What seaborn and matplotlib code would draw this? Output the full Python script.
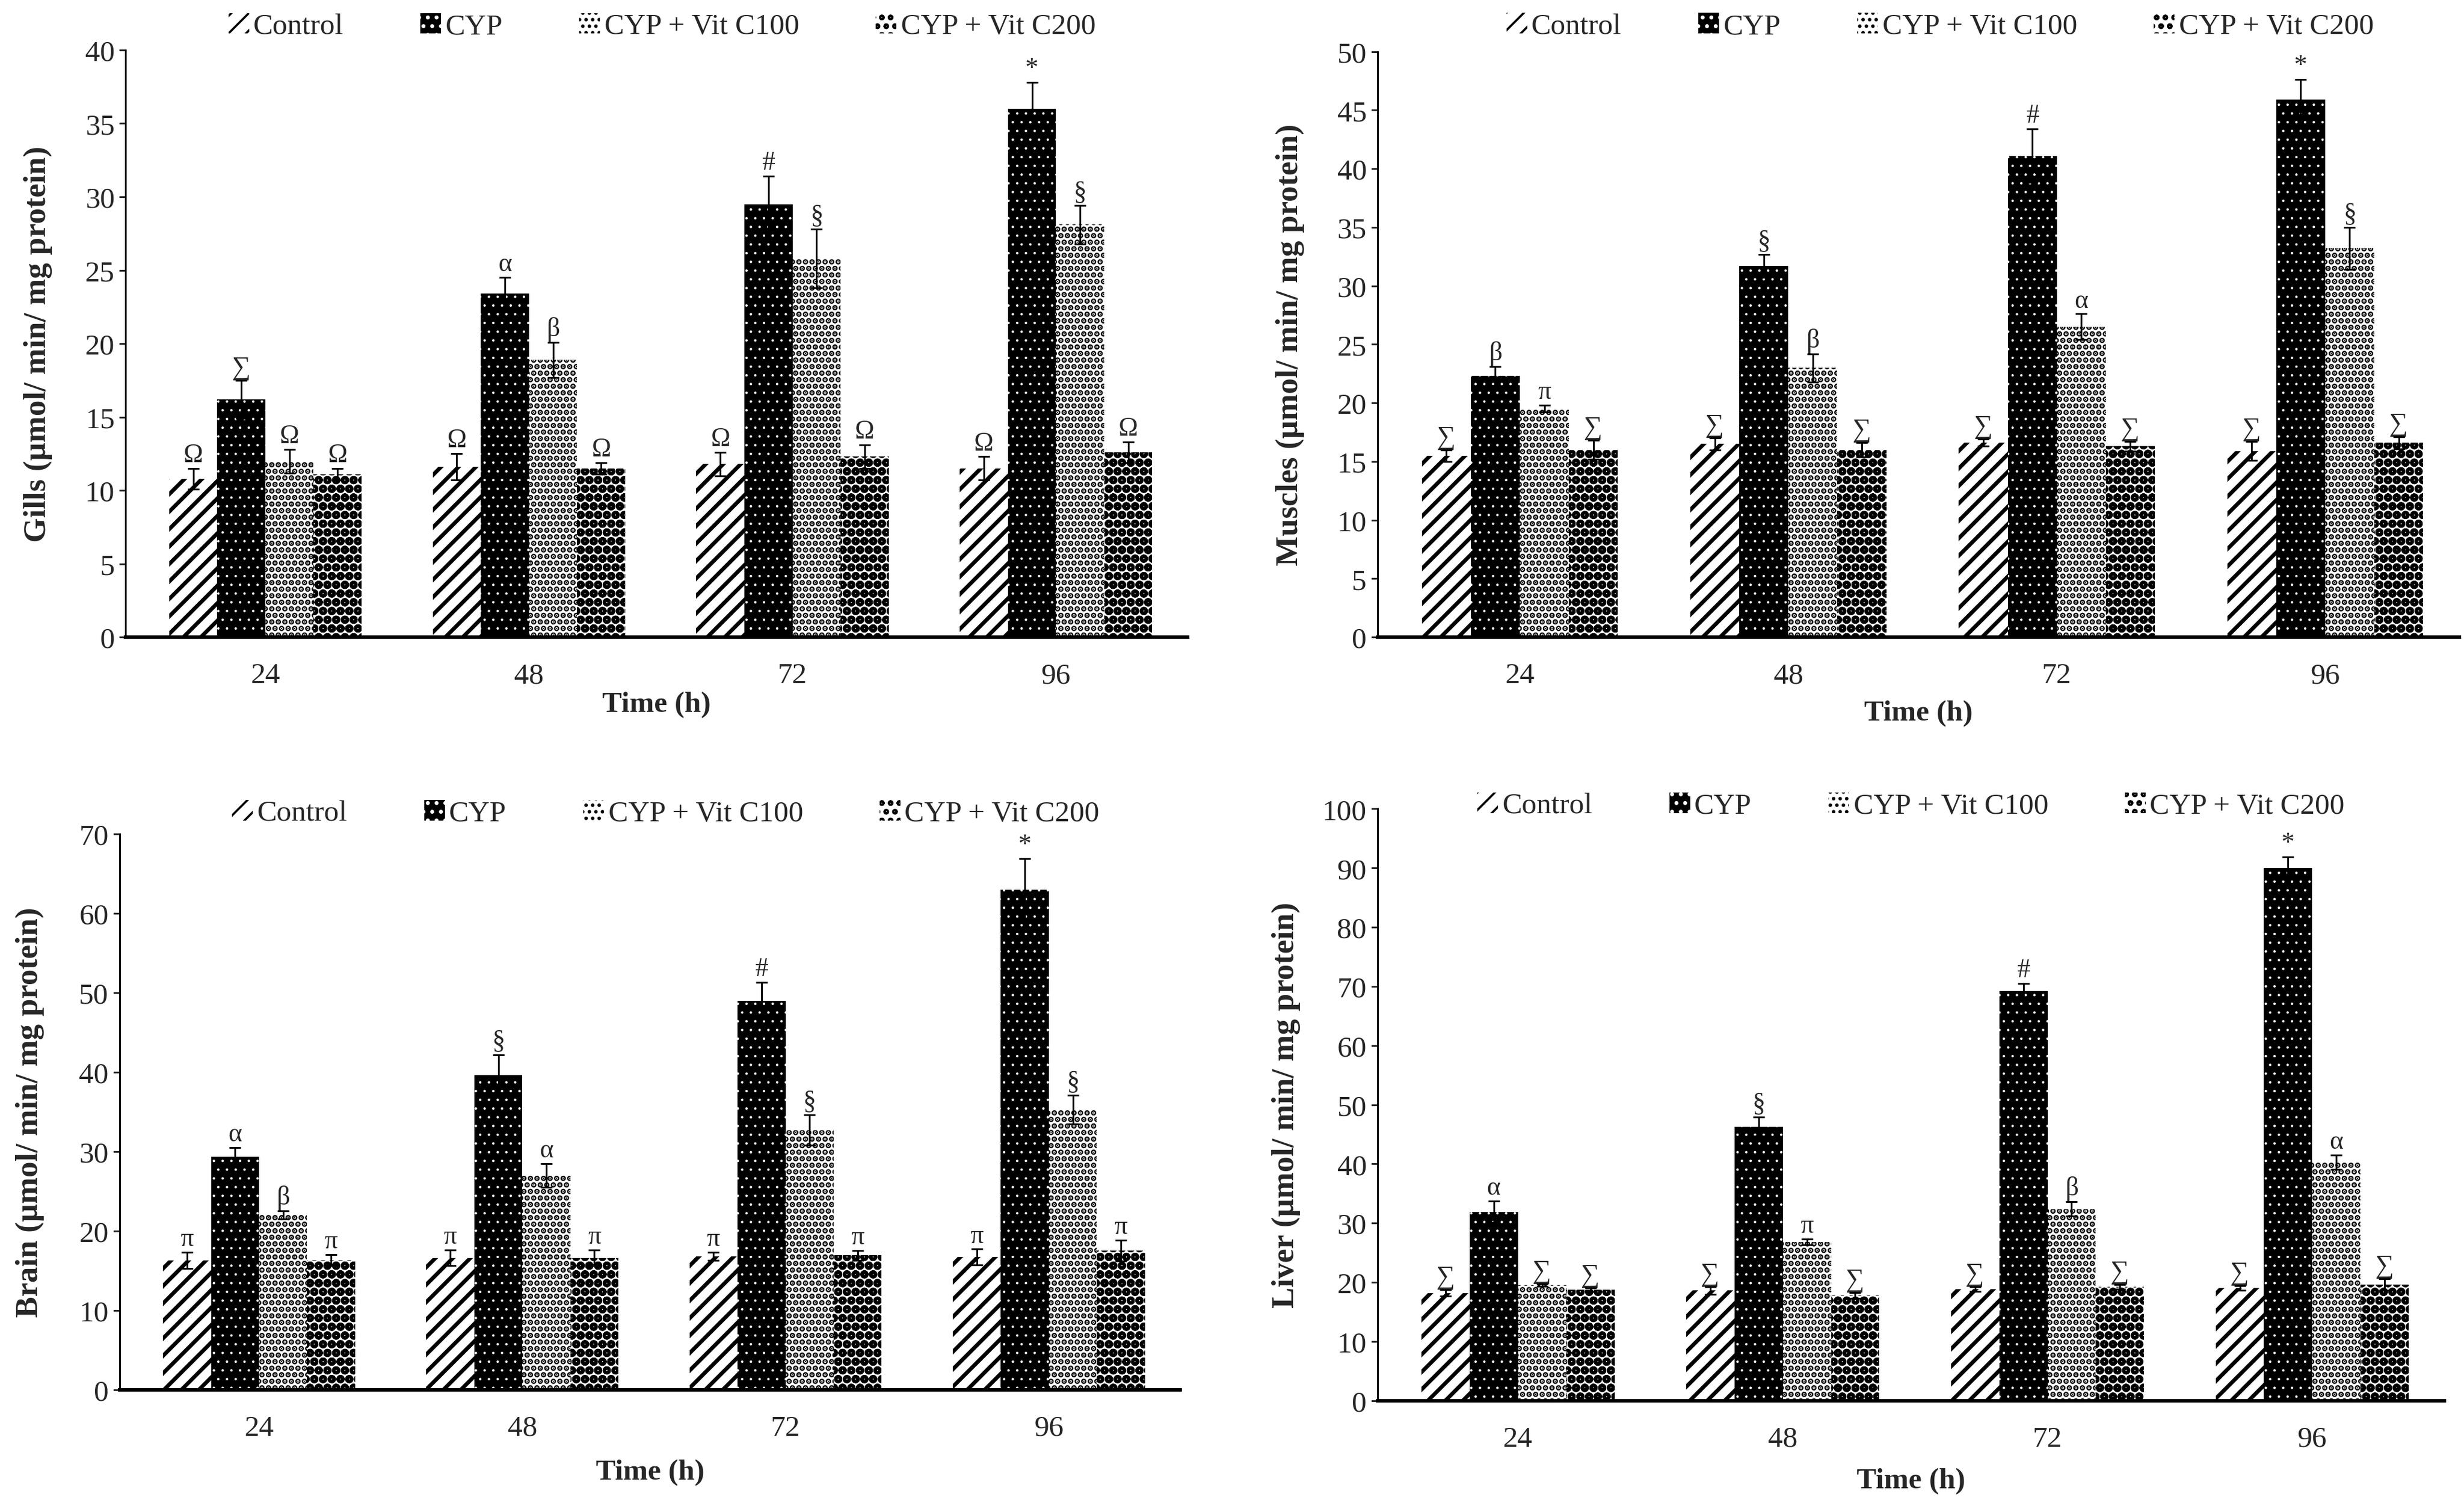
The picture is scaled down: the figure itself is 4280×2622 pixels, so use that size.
import numpy as np
import pandas as pd
import matplotlib
matplotlib.use("Agg")
import matplotlib.pyplot as plt
import seaborn as sns

# DATA
times = ["24", "48", "72", "96"]
groups = ["Control", "CYP", "CYP + Vit C100", "CYP + Vit C200"]

# one list per group, values at 24/48/72/96 h
gills_mean = [[10.8, 11.6, 11.8, 11.5], [16.2, 23.4, 29.5, 36.0],
              [12.0, 18.9, 25.8, 28.1], [11.1, 11.5, 12.3, 12.6]]
gills_err = [[0.7, 0.9, 0.8, 0.8], [1.3, 1.1, 1.9, 1.8],
             [0.8, 1.2, 2.0, 1.3], [0.4, 0.4, 0.8, 0.7]]
gills_sig = [["Ω", "Ω", "Ω", "Ω"], ["∑", "α", "#", "*"],
             ["Ω", "β", "§", "§"], ["Ω", "Ω", "Ω", "Ω"]]

muscles_mean = [[15.5, 16.5, 16.6, 15.9], [22.3, 31.7, 41.1, 45.9],
                [19.5, 23.0, 26.5, 33.2], [16.0, 16.0, 16.3, 16.6]]
muscles_err = [[0.5, 0.5, 0.3, 0.8], [0.8, 1.0, 2.3, 1.7],
               [0.3, 1.2, 1.1, 1.8], [0.8, 0.6, 0.4, 0.5]]
muscles_sig = [["∑", "∑", "∑", "∑"], ["β", "§", "#", "*"],
               ["π", "β", "α", "§"], ["∑", "∑", "∑", "∑"]]

brain_mean = [[16.3, 16.6, 16.8, 16.7], [29.3, 39.6, 49.0, 63.0],
              [22.0, 27.0, 32.7, 35.3], [16.3, 16.6, 16.9, 17.5]]
brain_err = [[1.0, 1.0, 0.5, 1.0], [1.2, 2.6, 2.3, 3.9],
             [0.5, 1.5, 1.9, 1.8], [0.7, 1.0, 0.6, 1.3]]
brain_sig = [["π", "π", "π", "π"], ["α", "§", "#", "*"],
             ["β", "α", "§", "§"], ["π", "π", "π", "π"]]

liver_mean = [[18.2, 18.6, 18.8, 19.0], [31.9, 46.3, 69.2, 90.0],
              [19.5, 26.8, 32.4, 40.3], [18.7, 17.8, 19.2, 19.6]]
liver_err = [[0.5, 0.6, 0.4, 0.4], [1.8, 1.6, 1.3, 1.9],
             [0.2, 0.5, 1.2, 1.2], [0.3, 0.5, 0.4, 1.0]]
liver_sig = [["∑", "∑", "∑", "∑"], ["α", "§", "#", "*"],
             ["∑", "π", "β", "α"], ["∑", "∑", "∑", "∑"]]

# SETTINGS
sns.set_style("white")
plt.rcParams["font.family"] = ["Liberation Serif", "DejaVu Serif"]

# face, hatch colour, hatch, hatch linewidth
styles = [("white", "black", "///", 1.8),
          ("black", "white", "...", 0.3),
          ("white", "black", "....", 1.8),
          ("white", "black", "ooo", 2.2)]


def make_df(means):
    rows = []
    for g, vals in zip(groups, means):
        for t, v in zip(times, vals):
            rows.append({"time": t, "group": g, "value": v})
    return pd.DataFrame(rows)


def draw_panel(ax, means, errs, sigs, ylabel, ymax, ystep, leg_xy, xpad, ypad):
    df = make_df(means)
    sns.barplot(data=df, x="time", y="value", hue="group", order=times,
                hue_order=groups, errorbar=None, width=0.73, ax=ax,
                legend=False)
    bars = list(ax.containers)
    for i, cont in enumerate(bars):
        face, hcol, hatch, hlw = styles[i]
        for p in cont:
            p.set_facecolor(face)
            p.set_edgecolor(hcol)
            p.set_linewidth(0)
            p.set_hatch(hatch)
            if hasattr(p, "set_hatch_linewidth"):
                p.set_hatch_linewidth(hlw)
        xs = [p.get_x() + p.get_width() / 2 for p in cont]
        ax.errorbar(xs, means[i], yerr=errs[i], fmt="none", ecolor="black",
                    elinewidth=0.8, capsize=2.6, capthick=0.8, zorder=5)
        for x, m, e, s in zip(xs, means[i], errs[i], sigs[i]):
            ax.annotate(s, (x, m + e), xytext=(0, 0.5), textcoords="offset points",
                        ha="center", va="bottom", fontsize=12,
                        family=["Liberation Serif", "DejaVu Serif"])

    handles = [cont[0] for cont in bars]
    ax.legend(handles, groups, loc="center", bbox_to_anchor=leg_xy, ncol=4,
              frameon=False, fontsize=13.5, handlelength=0.7, handleheight=0.7,
              handletextpad=0.15, columnspacing=2.6)

    ax.set_ylim(0, ymax)
    ax.set_yticks(np.arange(0, ymax + 1, ystep))
    ax.set_xlim(-0.53, 3.5)
    ax.set_ylabel(ylabel, fontsize=14.5, fontweight="bold", labelpad=ypad)
    ax.set_xlabel("Time (h)", fontsize=13.5, fontweight="bold", labelpad=xpad)
    sns.despine(ax=ax)
    ax.spines["left"].set_linewidth(0.8)
    ax.spines["bottom"].set_linewidth(1.6)
    ax.spines["left"].set_color("black")
    ax.spines["bottom"].set_color("black")
    ax.tick_params(axis="y", left=True, direction="out", length=3, width=0.8,
                   labelsize=13.5, pad=2)
    ax.tick_params(axis="x", bottom=False, labelsize=13.5, pad=8)


fig = plt.figure(figsize=(15.68, 9.608), dpi=273)

ax1 = fig.add_axes([0.051, 0.5775, 0.431, 0.389])
draw_panel(ax1, gills_mean, gills_err, gills_sig,
           "Gills (µmol/ min/ mg protein)", 40, 5, (0.505, 1.040), 1, 15)

ax2 = fig.add_axes([0.559, 0.5775, 0.439, 0.388])
draw_panel(ax2, muscles_mean, muscles_err, muscles_sig,
           "Muscles (µmol/ min/ mg protein)", 50, 5, (0.52, 1.043), 5, 15)

ax3 = fig.add_axes([0.0485, 0.0791, 0.4305, 0.368])
draw_panel(ax3, brain_mean, brain_err, brain_sig,
           "Brain (µmol/ min/ mg protein)", 70, 10, (0.515, 1.037), 8, 16)

ax4 = fig.add_axes([0.559, 0.0718, 0.433, 0.392])
draw_panel(ax4, liver_mean, liver_err, liver_sig,
           "Liver (µmol/ min/ mg protein)", 100, 10, (0.50, 1.005), 7, 10)

fig.savefig("out.png", dpi=273)
